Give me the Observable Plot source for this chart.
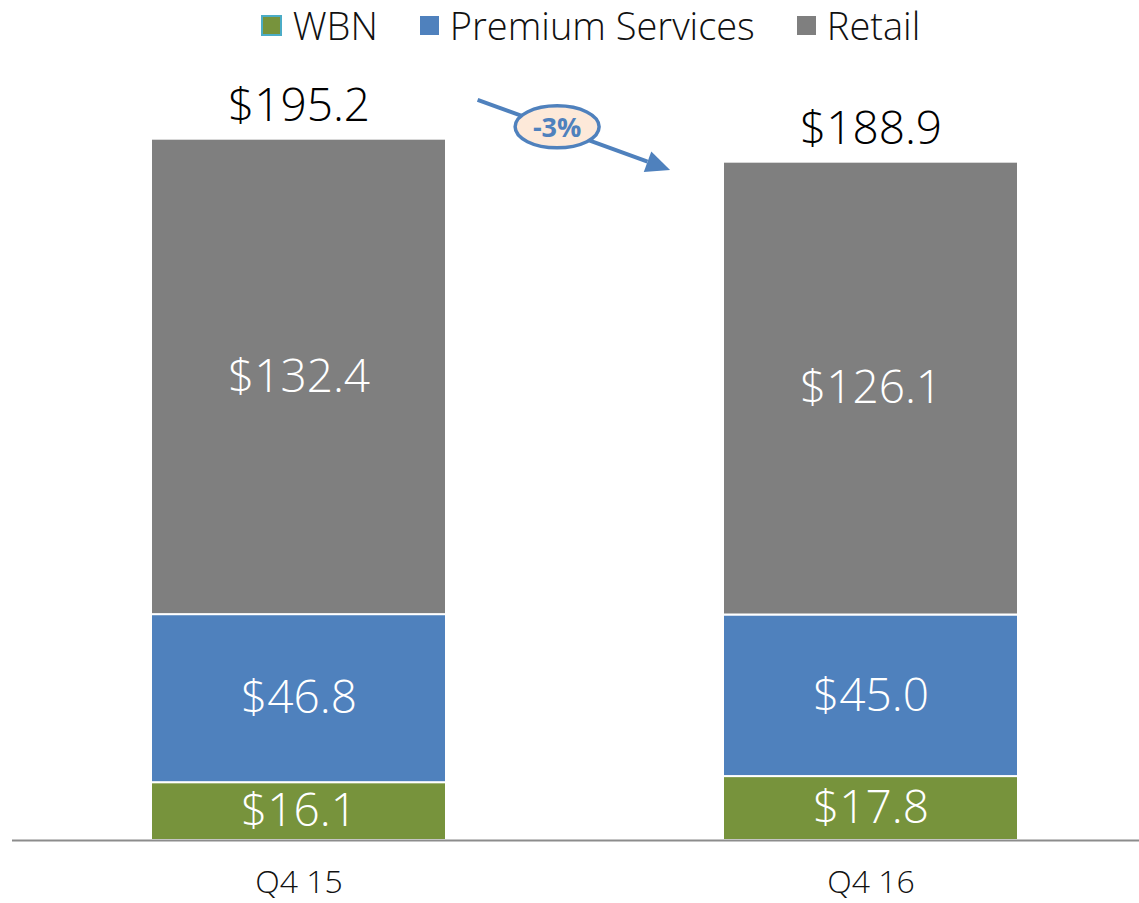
<!DOCTYPE html>
<html><head><meta charset="utf-8">
<script src="https://cdn.jsdelivr.net/npm/d3@7"></script>
<script src="https://cdn.jsdelivr.net/npm/@observablehq/plot@0.6"></script>
<style>
body{margin:0;background:#fff;font-family:"Open Sans",sans-serif;width:1139px;height:903px;overflow:hidden;}
#legend{height:50px;display:flex;justify-content:center;align-items:center;padding-left:42px;box-sizing:border-box;font-size:38px;font-weight:300;color:#111;}
#legend .item{display:flex;align-items:center;margin:0 21px;}
#legend .sw{width:19px;height:19px;margin-right:11px;box-sizing:border-box;}
svg text{font-weight:300;}
</style></head>
<body>
<div id="legend"></div>
<div id="chart"></div>
<script>
const categories = ["Q4 15", "Q4 16"];
const series = ["WBN", "Premium Services", "Retail"];
const wbn = [16.1, 17.8];
const premium = [46.8, 45.0];
const retail = [132.4, 126.1];
const totals = [195.2, 188.9];
const changeLabel = "-3%";
const colors = ["#77933c", "#4f81bd", "#7f7f7f"];

const values = [wbn, premium, retail];
const data = [];
categories.forEach((c, i) => series.forEach((s, j) => data.push({cat: c, series: s, value: values[j][i]})));
const totalRows = categories.map((c, i) => ({cat: c, total: totals[i]}));

// legend
const lg = document.getElementById("legend");
series.forEach((s, j) => {
  const it = document.createElement("div"); it.className = "item";
  const sw = document.createElement("div"); sw.className = "sw"; sw.style.background = colors[j];
  if (j === 0) { sw.style.border = "2px solid #4bacc6"; sw.style.width = "21px"; sw.style.height = "21px"; }
  const t = document.createElement("span"); t.textContent = s;
  it.append(sw, t); lg.append(it);
});

const blue = "#4f81bd";
function annotation(index, scales, vals, dims) {
  const x = scales.x, y = scales.y;
  const x0 = x(categories[0]), x1 = x(categories[1]);
  const ax1 = x0 + (x1 - x0) * 0.571, ay1 = y(206.1);
  const ax2 = x0 + (x1 - x0) * 0.9075, ay2 = y(186.6);
  const ang = Math.atan2(ay2 - ay1, ax2 - ax1);
  const hl = 24, hw = 11;
  const bx = ax2 - hl * Math.cos(ang), by = ay2 - hl * Math.sin(ang);
  const g = d3.create("svg:g");
  g.append("line").attr("x1", ax1).attr("y1", ay1).attr("x2", bx).attr("y2", by)
    .attr("stroke", blue).attr("stroke-width", 4);
  g.append("path").attr("d", `M${ax2},${ay2}L${bx + hw*Math.sin(ang)},${by - hw*Math.cos(ang)}L${bx - hw*Math.sin(ang)},${by + hw*Math.cos(ang)}Z`)
    .attr("fill", blue);
  const ex = x0 + (x1 - x0) * 0.710, ey = y(198.6);
  g.append("ellipse").attr("cx", ex).attr("cy", ey).attr("rx", 42).attr("ry", 21)
    .attr("fill", "#fde9d9").attr("stroke", blue).attr("stroke-width", 3.5);
  g.append("text").attr("x", ex).attr("y", ey).attr("dy", "0.36em").attr("text-anchor", "middle")
    .attr("fill", blue).style("font-weight", "bold").attr("font-size", 27).text(changeLabel);
  return g.node();
}

const chart = Plot.plot({
  width: 1139,
  height: 853,
  marginTop: 0,
  marginLeft: 12,
  marginRight: 0,
  marginBottom: 63,
  style: {fontFamily: "Open Sans", background: "#fff", overflow: "visible"},
  x: {domain: categories, paddingInner: 0.485, paddingOuter: 0.226, align: 0.533, label: null},
  y: {domain: [0, 220], axis: null},
  color: {domain: series, range: colors},
  marks: [
    Plot.barY(data, {x: "cat", y: "value", fill: "series", stroke: "white", strokeWidth: 2}),
    Plot.text(data, Plot.stackY({x: "cat", y: "value", text: d => "$" + d.value.toFixed(1), fill: "white", fontSize: 46})),
    Plot.text(totalRows, {x: "cat", y: "total", text: d => "$" + d.total.toFixed(1), fill: "black", fontSize: 46, dy: -33, lineAnchor: "middle"}),
    Plot.ruleY([0], {stroke: "#8c8c8c", strokeWidth: 2}),
    Plot.axisX({tickSize: 0, tickPadding: 30, fontSize: 32, label: null, fill: "#111"}),
    annotation
  ]
});
document.getElementById("chart").append(chart);
</script>
</body></html>
